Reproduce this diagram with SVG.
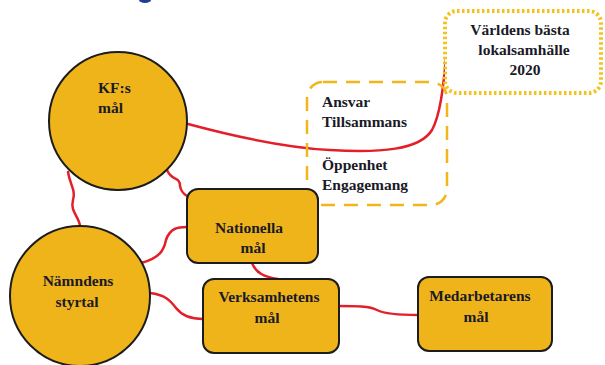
<svg xmlns="http://www.w3.org/2000/svg" width="605" height="365" viewBox="0 0 605 365">
<style>
.node{fill:#efb419;stroke:#1c1c1c;stroke-width:2}
.lbl{font-family:'Liberation Serif','DejaVu Serif',serif;font-weight:bold;font-size:15.5px;fill:#1a1a28}
.c{text-anchor:middle}
.conn{fill:none;stroke:#e3202a;stroke-width:2.5;stroke-linecap:round}
</style>
<rect width="605" height="365" fill="#ffffff"/>
<ellipse cx="145" cy="0" rx="6" ry="3" fill="#1f3f95"/>
<g id="connectors">
<path class="conn" d="M68,172 C70,185 76,190 73,200 C70,212 79,216 80,226"/>
<path class="conn" d="M167,170 C172,182 180,176 180,186 C181,192 184,194 187,196"/>
<path class="conn" d="M141,263 C160,258 164,250 166,240 C170,228 178,227 187,227"/>
<path class="conn" d="M252,263 C256,273 264,277 278,279"/>
<path class="conn" d="M150,293 C165,295 170,300 176,308 C183,317 193,319 203,319"/>
<path class="conn" d="M339,306 C355,306 370,306 377,310 C385,314 400,315 418,315"/>
<path class="conn" d="M188,124 C240,138 290,148 330,150 C380,153 420,150 432,130 C442,112 444,75 447,50"/>
</g>
<g id="values">
<rect x="307" y="82" width="140" height="123" rx="16" fill="none" stroke="#f2b51a" stroke-width="2.5" stroke-dasharray="14,9"/>
<text class="lbl" x="322" y="107">Ansvar</text>
<text class="lbl" x="322" y="127">Tillsammans</text>
<text class="lbl" x="322" y="170">Öppenhet</text>
<text class="lbl" x="322" y="190">Engagemang</text>
</g>
<g id="vision">
<rect x="445" y="11" width="156" height="82" rx="12" fill="#ffffff" stroke="#f5c21b" stroke-width="4" stroke-dasharray="2.5,2.5"/>
<text class="lbl c" x="520" y="35">Världens bästa</text>
<text class="lbl c" x="524" y="55">lokalsamhälle</text>
<text class="lbl c" x="525" y="75">2020</text>
</g>
<g id="kf">
<circle class="node" cx="118" cy="121" r="69"/>
<text class="lbl" x="98" y="93">KF:s</text>
<text class="lbl" x="98" y="113">mål</text>
</g>
<g id="namnden">
<circle class="node" cx="80" cy="296" r="70"/>
<text class="lbl c" x="78" y="286">Nämndens</text>
<text class="lbl c" x="77" y="307">styrtal</text>
</g>
<g id="nationella">
<rect class="node" x="187" y="189" width="131" height="74" rx="11"/>
<text class="lbl c" x="249" y="233">Nationella</text>
<text class="lbl c" x="253" y="253">mål</text>
</g>
<g id="verksamhetens">
<rect class="node" x="203" y="279" width="136" height="74" rx="11"/>
<text class="lbl c" x="269" y="302">Verksamhetens</text>
<text class="lbl c" x="267" y="323">mål</text>
</g>
<g id="medarbetarens">
<rect class="node" x="418" y="277" width="134" height="74" rx="11"/>
<text class="lbl c" x="480" y="301">Medarbetarens</text>
<text class="lbl c" x="476" y="322">mål</text>
</g>
</svg>
